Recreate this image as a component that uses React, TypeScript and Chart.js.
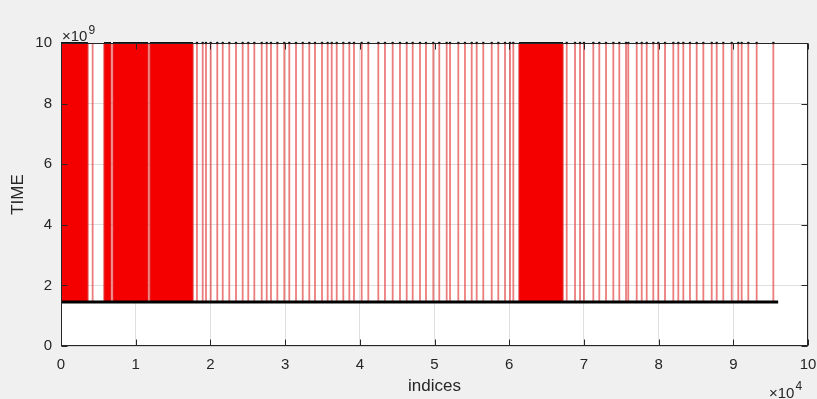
import React, { useEffect, useRef } from "react";
import { Chart, registerables } from "chart.js";

Chart.register(...registerables);

// ---- data ----
const BASE_LEVEL = 1.45e9;
const TOP_LEVEL = 1e10;
const BASE_END = 96000;
// dense regions where TIME jumps up/down continuously (appear solid)
const blockStarts = [0, 4150, 5760, 6960, 11900, 61310];
const blockEnds = [3600, 4280, 6690, 11650, 17670, 67200];
// isolated indices where TIME jumps to the top level
const spikeIdx = [
  18200, 18970, 19410, 20040, 20920, 21650, 22530, 23430, 24320, 25070, 25880,
  26870, 27540, 28110, 28960, 29890, 30560, 31460, 32360, 33240, 34000, 34940,
  35700, 36240, 36910, 37790, 38600, 39220, 40250, 41140, 42480, 43370, 44400,
  45380, 46280, 47080, 48060, 48860, 49840, 50640, 51630, 52080, 53190, 54080,
  54980, 55650, 56530, 57660, 58540, 59440, 60110, 60550, 67700, 68810, 69480,
  70010, 71260, 72060, 72960, 73940, 74740, 75640, 75940, 77070, 77740, 78410,
  79290, 79960, 80860, 81970, 82640, 83310, 84200, 85100, 85990, 87110, 87780,
  88660, 89790, 90670, 91120, 92010, 93130, 95360,
];
const xTickValues = [0, 1, 2, 3, 4, 5, 6, 7, 8, 9, 10];
const yTickValues = [0, 2, 4, 6, 8, 10];
const X_EXP = 4;
const Y_EXP = 9;

const TEXT = "#262626";
const FONT = "'Liberation Sans', Arial, sans-serif";

function buildTrace() {
  type Ev = { x: number; kind: "b" | "s"; e?: number };
  const evs: Ev[] = [];
  blockStarts.forEach((s, i) => evs.push({ x: s, kind: "b", e: blockEnds[i] }));
  spikeIdx.forEach((s) => evs.push({ x: s, kind: "s" }));
  evs.sort((a, b) => a.x - b.x);
  const pts: { x: number; y: number }[] = [];
  evs.forEach((ev) => {
    if (ev.kind === "b") {
      pts.push({ x: ev.x, y: BASE_LEVEL }, { x: ev.x, y: TOP_LEVEL }, { x: ev.e!, y: TOP_LEVEL }, { x: ev.e!, y: BASE_LEVEL });
    } else {
      pts.push({ x: ev.x, y: BASE_LEVEL }, { x: ev.x, y: TOP_LEVEL }, { x: ev.x, y: BASE_LEVEL });
    }
  });
  pts.push({ x: BASE_END, y: BASE_LEVEL });
  return pts;
}

const framePlugin = {
  id: "matlabFrame",
  beforeDraw(chart: any) {
    const { ctx, chartArea: a, width, height } = chart;
    ctx.save();
    ctx.fillStyle = "#f0f0f0";
    ctx.fillRect(0, 0, width, height);
    ctx.fillStyle = "#ffffff";
    ctx.fillRect(a.left, a.top, a.right - a.left, a.bottom - a.top);
    ctx.restore();
  },
  afterDraw(chart: any) {
    const { ctx, chartArea: a, scales } = chart;
    ctx.save();
    ctx.strokeStyle = TEXT;
    ctx.lineWidth = 1;
    const L = Math.round(a.left) + 0.5;
    const R = Math.round(a.right) - 0.5;
    const T = Math.round(a.top) + 0.5;
    const B = Math.round(a.bottom) - 0.5;
    ctx.strokeRect(L, T, R - L, B - T);
    const tl = 6;
    ctx.beginPath();
    xTickValues.forEach((v) => {
      const px = Math.round(scales.x.getPixelForValue(v * 10 ** X_EXP)) + 0.5;
      ctx.moveTo(px, B); ctx.lineTo(px, B - tl);
      ctx.moveTo(px, T); ctx.lineTo(px, T + tl);
    });
    yTickValues.forEach((v) => {
      const py = Math.round(scales.y.getPixelForValue(v * 10 ** Y_EXP)) + 0.5;
      ctx.moveTo(L, py); ctx.lineTo(L + tl, py);
      ctx.moveTo(R, py); ctx.lineTo(R - tl, py);
    });
    ctx.stroke();
    // exponent labels
    ctx.fillStyle = TEXT;
    ctx.textBaseline = "alphabetic";
    ctx.textAlign = "left";
    ctx.font = `15px ${FONT}`;
    ctx.fillText("\u00d710", a.left + 1, a.top - 2);
    const w1 = ctx.measureText("\u00d710").width;
    ctx.font = `12px ${FONT}`;
    ctx.fillText(String(Y_EXP), a.left + 1 + w1 + 1, a.top - 9);
    ctx.font = `15px ${FONT}`;
    ctx.fillText("\u00d710", a.right - 39, 398);
    const w2 = ctx.measureText("\u00d710").width;
    ctx.font = `12px ${FONT}`;
    ctx.fillText(String(X_EXP), a.right - 39 + w2 + 1, 390);
    ctx.restore();
  },
};

export default function App() {
  const ref = useRef<HTMLCanvasElement | null>(null);
  useEffect(() => {
    if (!ref.current) return;
    const trace = buildTrace();
    const topDots = spikeIdx.map((x) => ({ x, y: TOP_LEVEL }));
    const topLines: any[] = [];
    blockStarts.forEach((s, i) => {
      topLines.push({ x: s, y: TOP_LEVEL }, { x: blockEnds[i], y: TOP_LEVEL }, { x: blockEnds[i] + 1, y: null });
    });
    const chart = new Chart(ref.current, {
      type: "line",
      data: {
        datasets: [
          {
            label: "base",
            data: [{ x: 0, y: BASE_LEVEL }, { x: BASE_END, y: BASE_LEVEL }],
            borderColor: "#000000",
            borderWidth: 3,
            pointRadius: 0,
            order: 0,
          } as any,
          {
            label: "topLine",
            data: topLines,
            borderColor: "#111111",
            borderWidth: 2,
            pointRadius: 0,
            spanGaps: false,
            clip: 4,
            order: 1,
          },
          {
            label: "topDots",
            data: topDots,
            showLine: false,
            pointRadius: 1.3,
            pointBackgroundColor: "#111111",
            pointBorderWidth: 0,
            clip: 4,
            order: 2,
          },
          {
            label: "TIME",
            data: trace,
            borderColor: "rgba(225,45,45,0.62)",
            borderWidth: 1.8,
            backgroundColor: "#f50000",
            fill: { value: BASE_LEVEL },
            pointRadius: 0,
            tension: 0,
            order: 3,
          },
        ],
      },
      options: {
        animation: false,
        responsive: false,
        events: [],
        layout: { padding: { left: 0, top: 43, right: 9, bottom: 0 } },
        plugins: { legend: { display: false }, tooltip: { enabled: false } },
        scales: {
          x: {
            type: "linear",
            min: 0,
            max: 10 ** (X_EXP + 1),
            afterFit: (s: any) => { s.height = 53; s.paddingRight = 0; s.paddingLeft = 0; },
            afterBuildTicks: (s: any) => { s.ticks = xTickValues.map((v) => ({ value: v * 10 ** X_EXP })); },
            ticks: {
              color: TEXT,
              font: { family: FONT, size: 15 },
              padding: 10,
              maxRotation: 0,
              autoSkip: false,
              callback: (v: any) => String(Math.round(Number(v) / 10 ** X_EXP)),
            },
            grid: { color: "rgba(38,38,38,0.15)", drawTicks: false },
            border: { display: false },
            title: {
              display: true,
              text: "indices",
              color: TEXT,
              font: { family: FONT, size: 17 },
              padding: { top: 2, bottom: 2 },
            },
          },
          y: {
            type: "linear",
            min: 0,
            max: 10 ** (Y_EXP + 1),
            afterFit: (s: any) => { s.width = 61; },
            afterBuildTicks: (s: any) => { s.ticks = yTickValues.map((v) => ({ value: v * 10 ** Y_EXP })); },
            ticks: {
              color: TEXT,
              font: { family: FONT, size: 15 },
              padding: 9,
              autoSkip: false,
              callback: (v: any) => String(Math.round(Number(v) / 10 ** Y_EXP)),
            },
            grid: { color: "rgba(38,38,38,0.15)", drawTicks: false },
            border: { display: false },
            title: {
              display: true,
              text: "TIME",
              color: TEXT,
              font: { family: FONT, size: 17 },
              padding: { top: 8, bottom: 8 },
            },
          },
        },
      },
      plugins: [framePlugin],
    });
    return () => chart.destroy();
  }, []);
  return (
    <div style={{ position: "fixed", left: 0, top: 0, width: 817, height: 399, background: "#f0f0f0" }}>
      <canvas ref={ref} width={817} height={399} style={{ display: "block" }} />
    </div>
  );
}
